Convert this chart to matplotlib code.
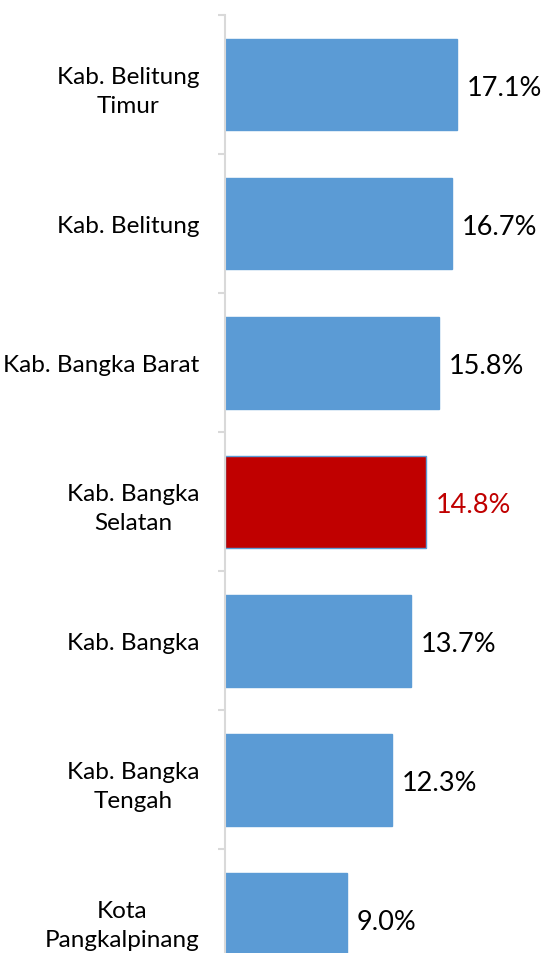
import matplotlib.pyplot as plt
import numpy as np

# data (top to bottom)
regions = ["Kab. Belitung\nTimur", "Kab. Belitung", "Kab. Bangka Barat",
           "Kab. Bangka\nSelatan", "Kab. Bangka", "Kab. Bangka\nTengah",
           "Kota\nPangkalpinang"]
values = [17.1, 16.7, 15.8, 14.8, 13.7, 12.3, 9.0]
highlight = "Kab. Bangka\nSelatan"

blue = "#5b9bd5"
red = "#c00000"

plt.rcParams['font.family'] = ['Lato', 'DejaVu Sans']

fig = plt.figure(figsize=(5.45, 9.54), dpi=100)
ax = fig.add_axes([225 / 545, 0, 320 / 545, 1 - 16 / 954])

pos = np.arange(len(regions))
colors = [red if r == highlight else blue for r in regions]
ax.barh(pos, values, height=0.66, color=colors, edgecolor=blue, linewidth=1)

for p, v, r in zip(pos, values, regions):
    c = red if r == highlight else "black"
    ax.text(v + 0.72, p + 0.02, f"{v:.1f}%", va="center", ha="left", fontsize=19.5, color=c)

ax.set_yticks(pos)
ax.set_yticklabels(regions, fontsize=17.5, ha="right", multialignment="center",
                   linespacing=1.5)
ax.tick_params(axis="y", which="major", length=0, pad=18.5)
ax.set_yticks(np.arange(-0.5, len(regions), 1), minor=True)
ax.tick_params(axis="y", which="minor", length=5, width=1.5, color="#d9d9d9")
ax.set_xticks([])

# limits last so the minor ticks don't stretch them
ax.set_xlim(0, 23.58)
ax.set_ylim(6.245, -0.5)

for s in ["top", "right", "bottom"]:
    ax.spines[s].set_visible(False)
ax.spines["left"].set_color("#d9d9d9")
ax.spines["left"].set_linewidth(1.5)

fig.savefig("out.png", dpi=100)
